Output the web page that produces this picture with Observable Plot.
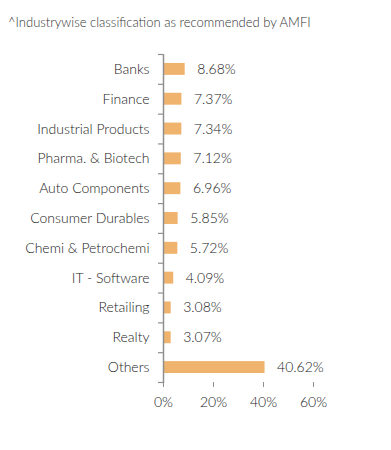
<!DOCTYPE html>
<html><head><meta charset="utf-8">
<script src="https://cdn.jsdelivr.net/npm/d3@7"></script>
<script src="https://cdn.jsdelivr.net/npm/@observablehq/plot@0.6"></script>
<style>
body{margin:0;background:#fff;font-family:Lato,"Open Sans",sans-serif;}
#title{height:40px;box-sizing:border-box;padding:14px 0 0 8px;font-size:13px;line-height:16px;color:#333;font-weight:300;}
svg{display:block;}
</style></head>
<body>
<div id="title">^Industrywise classification as recommended by AMFI</div>
<div id="chart"></div>
<script>
const categories = ["Banks","Finance","Industrial Products","Pharma. & Biotech","Auto Components","Consumer Durables","Chemi & Petrochemi","IT - Software","Retailing","Realty","Others"];
const values = [8.68,7.37,7.34,7.12,6.96,5.85,5.72,4.09,3.08,3.07,40.62];
const xTicks = [0,20,40,60];

const data = categories.map((c,i)=>({cat:c, v:values[i]}));
const H = 410, mt = 14, mb = 68;
const step = (H - mt - mb) / categories.length;
const gray = "#8f8f8f";
const bar = "#f0b36d";

const plot = Plot.plot({
  width: 391, height: H,
  marginLeft: 163, marginRight: 78, marginTop: mt, marginBottom: mb,
  style: {fontFamily: "Lato, 'Open Sans', sans-serif", fontSize: "14px", color: "#222", background: "#fff"},
  x: {domain: [0,60], ticks: xTicks, tickFormat: d => d + "%", label: null},
  y: {domain: categories, paddingInner: 0.6, paddingOuter: 0.3, round: false, label: null},
  marks: [
    Plot.barX(data, {x: "v", y: "cat", fill: bar}),
    Plot.text(data, {x: "v", y: "cat", text: d => d.v.toFixed(2) + "%", textAnchor: "start", dx: 12, fill: "#222", fontSize: 14, fontWeight: 300}),
    Plot.axisY({tickSize: 0, tickPadding: 14, fontSize: 14, fill: "#222", fontWeight: 300}),
    Plot.ruleY(categories, {y: d => d, x1: -2, x2: 0, dy: -step/2, stroke: gray, strokeWidth: 1.2}),
    Plot.ruleY(["Others"], {y: d => d, x1: -2, x2: 0, dy: step/2, stroke: gray, strokeWidth: 1.2}),
    Plot.ruleX([0], {stroke: gray, strokeWidth: 1.5, insetBottom: -1}),
    Plot.axisX({ticks: xTicks, tickFormat: d => d + "%", tickSize: 5, tickPadding: 10, stroke: gray, fontSize: 14, fill: "#222", fontWeight: 300})
  ]
});
document.getElementById("chart").appendChild(plot);
</script>
</body></html>
